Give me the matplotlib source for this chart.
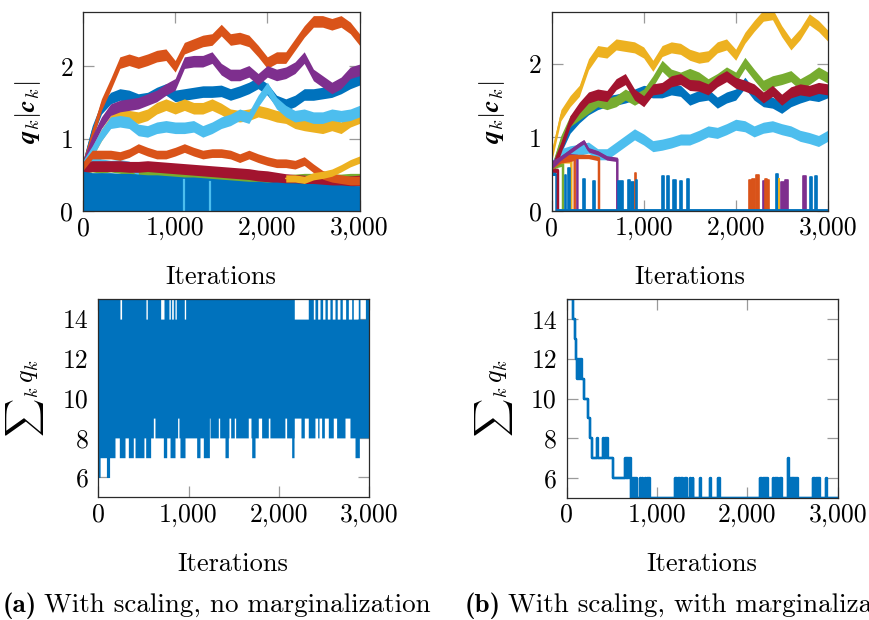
import numpy as np
import matplotlib
matplotlib.use("Agg")
import matplotlib.pyplot as plt

plt.rcParams.update({
    "font.family": "serif",
    "font.serif": ["cmr10"],
    "mathtext.fontset": "cm",
    "axes.formatter.use_mathtext": True,
    "font.size": 18,
})

BLUE = "#0072BD"
ORANGE = "#D95319"
YELLOW = "#EDB120"
PURPLE = "#7E2F8E"
GREEN = "#77AC30"
LBLUE = "#4DBEEE"
RED = "#A2142F"

# ---------------------------------------------------------------- data
# sampled every 100 iterations, 0..3000
iters = np.arange(0, 3001, 100)

# (a) with scaling, no marginalization: q_k |c_k| per component
a_orange_hi = [0.62, 1.05, 1.47, 1.75, 2.05, 2.09, 2.05, 2.09, 2.14, 2.16, 2.00,
               2.25, 2.30, 2.35, 2.37, 2.50, 2.37, 2.39, 2.35, 2.21, 2.05,
               2.12, 2.12, 2.30, 2.48, 2.62, 2.62, 2.58, 2.62, 2.53, 2.37]
a_purple = [0.62, 0.96, 1.22, 1.40, 1.45, 1.47, 1.49, 1.54, 1.59, 1.68, 1.75,
            2.05, 2.07, 2.07, 2.12, 1.96, 1.88, 1.88, 1.93, 1.82, 1.93,
            1.88, 1.91, 1.98, 2.12, 1.88, 1.79, 1.70, 1.77, 1.91, 1.95]
a_blue_hi = [0.62, 1.10, 1.42, 1.56, 1.61, 1.59, 1.54, 1.56, 1.63, 1.68, 1.59,
             1.61, 1.63, 1.65, 1.65, 1.66, 1.61, 1.65, 1.70, 1.77, 1.68,
             1.52, 1.47, 1.52, 1.61, 1.61, 1.63, 1.65, 1.70, 1.77, 1.82]
a_yellow_hi = [0.60, 0.82, 1.05, 1.24, 1.33, 1.31, 1.29, 1.33, 1.42, 1.47, 1.42,
               1.47, 1.42, 1.42, 1.47, 1.41, 1.33, 1.31, 1.33, 1.38, 1.35,
               1.31, 1.29, 1.22, 1.19, 1.17, 1.15, 1.19, 1.15, 1.24, 1.29]
a_lblue_hi = [0.62, 0.82, 1.05, 1.22, 1.24, 1.22, 1.12, 1.10, 1.15, 1.17, 1.15,
              1.15, 1.17, 1.10, 1.15, 1.22, 1.26, 1.33, 1.29, 1.52, 1.70,
              1.49, 1.38, 1.31, 1.33, 1.29, 1.29, 1.33, 1.31, 1.33, 1.38]
a_orange_lo = [0.62, 0.78, 0.78, 0.78, 0.76, 0.80, 0.87, 0.82, 0.78, 0.78, 0.82,
               0.87, 0.82, 0.78, 0.80, 0.80, 0.78, 0.73, 0.78, 0.73, 0.69,
               0.66, 0.66, 0.64, 0.69, 0.59, 0.50, 0.46, 0.44, 0.42, 0.42]
a_red = [0.60, 0.62, 0.62, 0.62, 0.62, 0.61, 0.61, 0.62, 0.61, 0.60, 0.59,
         0.58, 0.57, 0.56, 0.55, 0.54, 0.53, 0.52, 0.51, 0.49, 0.48,
         0.46, 0.44, 0.43, 0.42, 0.41, 0.40, 0.40, 0.40, 0.41, 0.42]
a_green = [0.58, 0.60, 0.58, 0.60, 0.58, 0.55, 0.52, 0.50, 0.50, 0.49, 0.48,
           0.48, 0.47, 0.47, 0.46, 0.46, 0.45, 0.45, 0.45, 0.44, 0.44,
           0.44, 0.44, 0.45, 0.46, 0.46, 0.46, 0.45, 0.45, 0.46, 0.46]
a_yellow_lo_iters = [2200, 2300, 2400, 2500, 2600, 2700, 2800, 2900, 3000]
a_yellow_lo = [0.45, 0.45, 0.43, 0.48, 0.50, 0.53, 0.59, 0.66, 0.71]
a_lblue_lo_iters = [0, 100, 200, 300, 400, 500, 600]
a_lblue_lo = [0.62, 0.70, 0.66, 0.64, 0.65, 0.63, 0.55]
# upper edge of the components switching between 0 and ~0.5
a_bottom_top = [0.55, 0.53, 0.53, 0.53, 0.52, 0.52, 0.51, 0.50, 0.50, 0.49, 0.48,
                0.47, 0.47, 0.46, 0.45, 0.44, 0.43, 0.42, 0.41, 0.41, 0.40,
                0.40, 0.39, 0.39, 0.38, 0.38, 0.37, 0.36, 0.36, 0.35, 0.35]
a_lblue_spikes = [(1099, 0.43), (1380, 0.40)]

# (b) with scaling, with marginalization
b_yellow = [0.75, 1.30, 1.49, 1.63, 1.99, 2.17, 2.15, 2.26, 2.24, 2.22, 2.15,
            1.97, 2.17, 2.22, 2.20, 2.12, 2.08, 2.10, 2.22, 2.26, 2.12,
            2.35, 2.51, 2.65, 2.67, 2.44, 2.26, 2.40, 2.60, 2.51, 2.38]
b_red = [0.55, 0.86, 1.22, 1.40, 1.54, 1.58, 1.56, 1.72, 1.79, 1.58, 1.49,
         1.65, 1.67, 1.76, 1.79, 1.71, 1.70, 1.65, 1.76, 1.83, 1.74,
         1.70, 1.65, 1.54, 1.63, 1.51, 1.61, 1.65, 1.63, 1.67, 1.65]
b_green = [0.55, 0.95, 1.22, 1.31, 1.40, 1.49, 1.45, 1.49, 1.58, 1.51, 1.58,
           1.76, 1.97, 1.85, 1.81, 1.86, 1.81, 1.72, 1.79, 1.88, 1.81,
           2.01, 1.85, 1.70, 1.76, 1.79, 1.83, 1.72, 1.79, 1.88, 1.81]
b_blue = [0.55, 0.86, 1.13, 1.27, 1.38, 1.45, 1.49, 1.51, 1.54, 1.58, 1.63,
          1.61, 1.61, 1.65, 1.63, 1.51, 1.56, 1.58, 1.47, 1.54, 1.58,
          1.74, 1.58, 1.49, 1.47, 1.40, 1.49, 1.54, 1.58, 1.56, 1.61]
b_lblue = [0.60, 0.77, 0.81, 0.83, 0.86, 0.77, 0.77, 0.86, 0.95, 1.04, 0.97,
           0.88, 0.90, 0.93, 0.97, 0.97, 1.02, 1.08, 1.06, 1.11, 1.17,
           1.15, 1.08, 1.13, 1.15, 1.11, 1.08, 1.02, 0.99, 0.95, 1.02]

# components that are switched off early: (iterations, values, colour)
b_dying = [
    ([0, 50], [0.50, 0.50], BLUE),
    ([0, 68], [0.56, 0.55], RED),
    ([0, 60, 123], [0.60, 0.62, 0.64], GREEN),
    ([0, 100, 213], [0.65, 0.68, 0.68], YELLOW),
    ([0, 100, 200, 250], [0.60, 0.68, 0.70, 0.72], ORANGE),
    ([0, 100, 200, 279], [0.65, 0.72, 0.75, 0.74], PURPLE),
    ([0, 100, 200, 300, 400, 514], [0.60, 0.72, 0.74, 0.74, 0.74, 0.71], ORANGE),
    ([0, 100, 200, 300, 350, 400, 500, 600, 713],
     [0.60, 0.72, 0.81, 0.90, 0.94, 0.83, 0.79, 0.72, 0.70], PURPLE),
]
# short re-activations: (start, end, height, colour)
b_spikes = [
    (141, 159, 0.49, BLUE), (177, 195, 0.58, BLUE), (340, 358, 0.44, BLUE),
    (449, 467, 0.41, BLUE), (721, 775, 0.41, BLUE), (829, 848, 0.42, BLUE),
    (866, 895, 0.40, BLUE), (909, 916, 0.51, ORANGE), (916, 931, 0.42, BLUE),
    (1203, 1221, 0.47, BLUE), (1257, 1272, 0.47, BLUE), (1319, 1348, 0.42, BLUE),
    (1398, 1420, 0.41, BLUE), (1474, 1496, 0.44, BLUE),
    (2145, 2178, 0.42, ORANGE), (2178, 2207, 0.44, ORANGE), (2224, 2250, 0.49, ORANGE),
    (2297, 2315, 0.41, PURPLE), (2315, 2335, 0.43, ORANGE), (2340, 2360, 0.42, ORANGE),
    (2438, 2460, 0.50, BLUE), (2466, 2470, 0.44, YELLOW), (2489, 2532, 0.39, PURPLE),
    (2540, 2569, 0.42, PURPLE), (2735, 2764, 0.48, PURPLE), (2808, 2829, 0.46, BLUE),
    (2858, 2887, 0.47, BLUE),
]

# (a) sum_k q_k: range of the rapidly switching total
sum_a_top_gaps = [(240, 258), (528, 543), (691, 728), (783, 798), (813, 831),
                  (850, 864), (953, 968), (2172, 2327), (2383, 2401), (2431, 2457),
                  (2486, 2512), (2538, 2567), (2593, 2623), (2648, 2678),
                  (2704, 2741), (2771, 2808), (2826, 2881), (2900, 2960)]
sum_a_nine = [(610, 628), (735, 746), (879, 894), (1219, 1238), (1330, 1345),
              (1448, 1467), (1507, 1522), (1662, 1692), (1773, 1810), (1884, 1902),
              (2068, 2087), (2172, 2246), (2283, 2327), (2401, 2431), (2446, 2475),
              (2505, 2549), (2604, 2641), (2734, 2789)]
sum_a_seven = [(0, 185), (233, 296), (333, 388), (407, 506), (525, 580),
               (721, 758), (795, 850), (905, 961), (1090, 1127), (1164, 1231),
               (1404, 1441), (1700, 1737), (2143, 2169), (2845, 2893)]
sum_a_six = [(0, 20), (90, 125)]

# (b) sum_k q_k: (start iteration, min, max) held until the next start
sum_b_steps = [
    (0, 15, 15), (70, 14, 14), (90, 13, 13), (100, 12, 12), (110, 11, 12),
    (165, 11, 11), (190, 10, 10), (240, 9, 9), (258, 8, 8), (277, 7, 7),
    (340, 7, 8), (348, 7, 7), (405, 7, 8), (418, 7, 7), (428, 7, 8), (460, 7, 7),
    (510, 6, 6), (645, 6, 7), (662, 6, 6), (672, 6, 7), (708, 5, 6),
    (775, 5, 5), (812, 5, 6), (818, 5, 5), (835, 5, 6), (840, 5, 5), (867, 5, 6),
    (876, 5, 5), (885, 5, 6), (922, 5, 5), (1200, 5, 6), (1218, 5, 5),
    (1236, 5, 6), (1250, 5, 5), (1262, 5, 6), (1291, 5, 5), (1310, 5, 6),
    (1330, 5, 5), (1365, 5, 6), (1372, 5, 5), (1393, 5, 6), (1400, 5, 5),
    (1476, 5, 6), (1483, 5, 5), (1587, 5, 6), (1594, 5, 5), (1680, 5, 6),
    (1697, 5, 5), (2140, 5, 6), (2160, 5, 5), (2170, 5, 6), (2230, 5, 5),
    (2288, 5, 6), (2300, 5, 5), (2310, 5, 6), (2343, 5, 5), (2362, 5, 6),
    (2380, 5, 5), (2454, 5, 7), (2462, 5, 6), (2500, 5, 5), (2508, 5, 6),
    (2565, 5, 5), (2731, 5, 6), (2750, 5, 5), (2760, 5, 6), (2804, 5, 5),
    (2867, 5, 6), (2878, 5, 5), (3000, 5, 5),
]

xtick_vals = [0, 1000, 2000, 3000]
xtick_labels = ["0", "1,000", "2,000", "3,000"]

# ---------------------------------------------------------------- figure
W, H = 869, 620
fig = plt.figure(figsize=(W / 100, H / 100), dpi=100)


def px_axes(x0, y0, x1, y1):
    return fig.add_axes([x0 / W, 1 - y1 / H, (x1 - x0) / W, (y1 - y0) / H])


def style(ax, ylim, yticks):
    ax.set_xlim(0, 3000)
    ax.set_ylim(*ylim)
    ax.set_xticks(xtick_vals)
    ax.set_xticklabels(xtick_labels)
    ax.set_yticks(yticks)
    ax.set_yticklabels([str(v) for v in yticks])
    ax.tick_params(direction="in", length=8, width=0.9, color="#9a9a9a",
                   top=True, right=True, labelsize=18.5)
    ax.tick_params(axis="x", pad=4)
    ax.tick_params(axis="y", pad=7)
    for s in ax.spines.values():
        s.set_color("#2a2a2a")
        s.set_linewidth(0.9)
        s.set_zorder(10)


def band(ax, x, mid, hw, color, z):
    mid = np.asarray(mid, dtype=float)
    ax.fill_between(x, mid - hw, mid + hw, color=color, lw=0, zorder=z)
    ax.plot(x, mid, color=color, lw=1.0, zorder=z)


ax_tl = px_axes(83, 12, 359.5, 211)
ax_tr = px_axes(551.7, 12, 827.7, 211)
ax_bl = px_axes(98.3, 299.3, 369, 497.3)
ax_br = px_axes(566.7, 299.3, 837.7, 497.7)

# ---- (a) top
HW = 0.08
band(ax_tl, iters, a_blue_hi, HW, BLUE, 2)
band(ax_tl, iters, a_orange_hi, HW, ORANGE, 2.1)
band(ax_tl, iters, a_yellow_hi, HW, YELLOW, 2.2)
band(ax_tl, iters, a_purple, HW, PURPLE, 2.3)
band(ax_tl, iters, a_green, 0.06, GREEN, 2.4)
band(ax_tl, iters, a_lblue_hi, HW, LBLUE, 2.5)
band(ax_tl, iters, a_red, 0.075, RED, 2.6)
band(ax_tl, iters, a_orange_lo, 0.06, ORANGE, 2.7)
band(ax_tl, a_yellow_lo_iters, a_yellow_lo, 0.05, YELLOW, 2.8)
band(ax_tl, a_lblue_lo_iters, a_lblue_lo, 0.06, LBLUE, 2.4)
ax_tl.fill_between(iters, 0, a_bottom_top, color=BLUE, lw=0, zorder=3)
for t, h in a_lblue_spikes:
    ax_tl.plot([t, t], [0, h], color=LBLUE, lw=1.6, zorder=3.1)
style(ax_tl, (0, 2.75), [0, 1, 2])

# ---- (b) top
HWB = 0.075
band(ax_tr, iters, b_blue, HWB, BLUE, 2)
band(ax_tr, iters, b_yellow, HWB, YELLOW, 2.1)
band(ax_tr, iters, b_green, HWB, GREEN, 2.3)
band(ax_tr, iters, b_lblue, HWB, LBLUE, 2.4)
band(ax_tr, iters, b_red, HWB, RED, 2.5)
for xs, ys, c in b_dying:
    xs = list(xs) + [xs[-1]]
    ys = list(ys) + [0.0]
    ax_tr.plot(xs, ys, color=c, lw=1.8, zorder=2.6)
    ax_tr.fill_between(xs, np.asarray(ys) - 0.03, np.asarray(ys) + 0.03,
                       color=c, lw=0, zorder=2.6)
for t0, t1, h, c in b_spikes:
    ax_tr.fill_between([t0, t1], 0, h, color=c, lw=0, zorder=2.7)
    ax_tr.plot([t0, t0, t1, t1], [0, h, h, 0], color=c, lw=1.2, zorder=2.7)
ax_tr.plot([50, 3000], [0, 0], color=BLUE, lw=3.5, zorder=2.8,
           solid_capstyle="butt")
style(ax_tr, (0, 2.7), [0, 1, 2])

# ---- (a) bottom
it = np.arange(0, 3001)
lo = np.full(it.shape, 8.0)
hi = np.full(it.shape, 15.0)
for a, b in sum_a_nine:
    lo[a:b] = 9
for a, b in sum_a_seven:
    lo[a:b] = 7
for a, b in sum_a_six:
    lo[a:b] = 6
for a, b in sum_a_top_gaps:
    hi[a:b] = 14
ax_bl.fill_between(it, lo, hi, step="post", color=BLUE, lw=0, zorder=2)
style(ax_bl, (5, 15), [6, 8, 10, 12, 14])

# ---- (b) bottom
sx = [s[0] for s in sum_b_steps]
smin = [s[1] for s in sum_b_steps]
smax = [s[2] for s in sum_b_steps]
ax_br.fill_between(sx, smin, smax, step="post", color=BLUE, lw=0, zorder=2)
ax_br.step(sx, smin, where="post", color=BLUE, lw=1.7, zorder=2.1)
ax_br.step(sx, smax, where="post", color=BLUE, lw=1.7, zorder=2.1)
ax_br.vlines(sx, smin, smax, color=BLUE, lw=1.7, zorder=2.1)
style(ax_br, (5, 15), [6, 8, 10, 12, 14])

# ---- labels
qlabel = r"$\mathbfit{q}_k|\mathbfit{c}_k|$"
slabel = r"${\sum}_k\, q_k$"
fig.text(28 / W, 1 - 112 / H, qlabel, rotation=90, ha="center", va="center", fontsize=19)
fig.text(492 / W, 1 - 112 / H, qlabel, rotation=90, ha="center", va="center", fontsize=19)
fig.text(25 / W, 1 - 398 / H, slabel, rotation=90, ha="center", va="center", fontsize=19)
fig.text(494 / W, 1 - 398 / H, slabel, rotation=90, ha="center", va="center", fontsize=19)
for cx, by in [(221, 284), (690, 284), (233, 571), (702, 571)]:
    fig.text(cx / W, 1 - by / H, "Iterations", ha="center", va="baseline", fontsize=19)

# sub-captions: bold tag followed by the description
renderer = fig.canvas.get_renderer()
CAP = 19.5
for x0, tag, desc in [(3, "(a)", "With scaling, no marginalization"),
                      (465, "(b)", "With scaling, with marginalization")]:
    t = fig.text(x0 / W, 1 - 612 / H, tag, family="cmb10", ha="left",
                 va="baseline", fontsize=CAP)
    ext = t.get_window_extent(renderer)
    fig.text((ext.x1 + 7) / W, 1 - 612 / H, desc, ha="left", va="baseline",
             fontsize=CAP)

fig.savefig("out.png", dpi=100)
